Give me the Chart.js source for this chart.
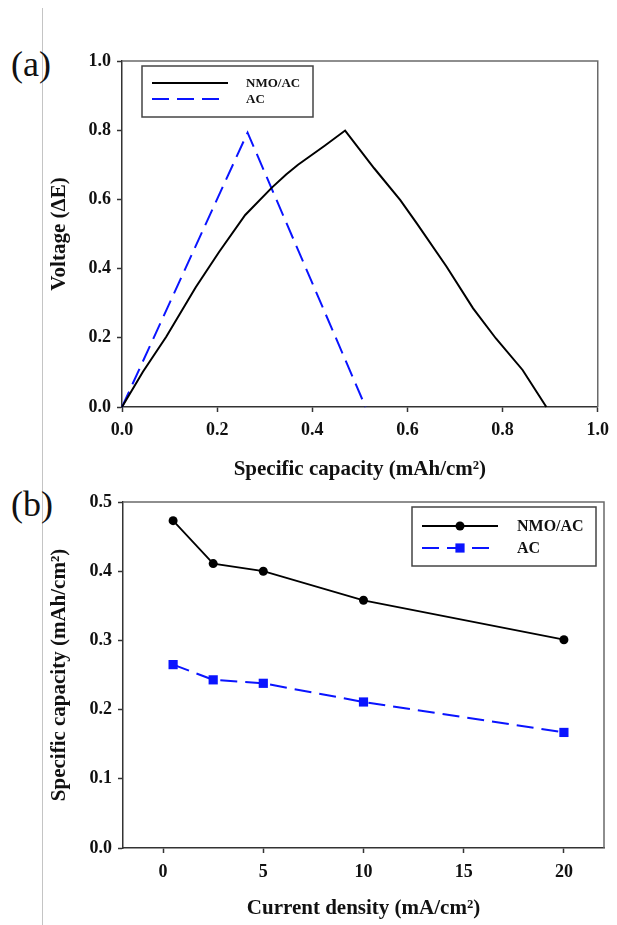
<!DOCTYPE html>
<html>
<head>
<meta charset="utf-8">
<script src="https://cdn.jsdelivr.net/npm/chart.js@4.4.1/dist/chart.umd.min.js"></script>
<style>
  html, body { margin: 0; padding: 0; background: #fff; }
  body { width: 617px; height: 925px; position: relative; overflow: hidden; font-family: "Liberation Serif", "Times New Roman", serif; }
  .panel { position: absolute; left: 0; width: 617px; }
  #wrapA { top: 0; height: 485px; }
  #wrapB { top: 485px; height: 440px; }
  .tag { position: absolute; left: 11px; font-size: 36px; line-height: 36px; color: #111; }
  .rule { position: absolute; left: 42px; top: 8px; width: 1px; height: 917px; background: #c4c4c4; }
</style>
</head>
<body>
<div class="rule"></div>
<div class="tag" style="top:46px">(a)</div>
<div class="tag" style="top:486px">(b)</div>
<div class="panel" id="wrapA"><canvas id="chartA" width="617" height="485"></canvas></div>
<div class="panel" id="wrapB"><canvas id="chartB" width="617" height="440"></canvas></div>
<script>
const FONT = '"Liberation Serif", "Times New Roman", serif';

// (a) charge / discharge curves
const capNMO = [0, 0.044, 0.093, 0.155, 0.204, 0.259, 0.315, 0.345, 0.370, 0.426, 0.469, 0.530, 0.585, 0.620, 0.682, 0.738, 0.786, 0.842, 0.892];
const voltNMO = [0, 0.102, 0.203, 0.346, 0.448, 0.555, 0.634, 0.672, 0.700, 0.755, 0.799, 0.690, 0.598, 0.530, 0.406, 0.285, 0.198, 0.107, 0];
const capAC = [0, 0.264, 0.512];
const voltAC = [0, 0.793, 0];
const ticksA = [0, 0.2, 0.4, 0.6, 0.8, 1.0];

// (b) rate capability
const currentDensity = [0.5, 2.5, 5, 10, 20];
const specNMO = [0.473, 0.411, 0.400, 0.358, 0.301];
const specAC = [0.265, 0.243, 0.238, 0.211, 0.167];
const ticksBx = [0, 5, 10, 15, 20];
const ticksBy = [0, 0.1, 0.2, 0.3, 0.4, 0.5];

const seriesNames = ['NMO/AC', 'AC'];

function pairs(xs, ys) {
    return xs.map((x, i) => ({ x: x, y: ys[i] }));
}

// top and right edges of the plot box
const framePlugin = {
    id: 'frame',
    afterDraw(chart) {
        const ctx = chart.ctx;
        const a = chart.chartArea;
        ctx.save();
        ctx.strokeStyle = '#6a6a6a';
        ctx.lineWidth = 1.5;
        ctx.beginPath();
        ctx.moveTo(a.left, a.top);
        ctx.lineTo(a.right, a.top);
        ctx.lineTo(a.right, a.bottom);
        ctx.stroke();
        ctx.restore();
    }
};

// boxed legend like the original figure
const boxLegend = {
    id: 'boxLegend',
    afterDraw(chart, args, o) {
        const ctx = chart.ctx;
        ctx.save();
        ctx.fillStyle = '#fff';
        ctx.fillRect(o.x, o.y, o.w, o.h);
        ctx.strokeStyle = '#444';
        ctx.lineWidth = 1.5;
        ctx.strokeRect(o.x, o.y, o.w, o.h);
        ctx.font = 'bold ' + o.size + 'px ' + FONT;
        ctx.textBaseline = 'middle';
        chart.data.datasets.forEach((ds, i) => {
            const y = o.rows[i];
            const dash = ds.borderDash || [];
            // end a dashed sample on a full dash
            const x2 = dash.length ? o.x1 + dash[0] * 3 + dash[1] * 2 : o.x2;
            ctx.strokeStyle = ds.borderColor;
            ctx.lineWidth = ds.borderWidth;
            ctx.setLineDash(dash);
            ctx.beginPath();
            ctx.moveTo(o.x1, y);
            ctx.lineTo(x2, y);
            ctx.stroke();
            ctx.setLineDash([]);
            const mx = (o.x1 + o.x2) / 2;
            ctx.fillStyle = ds.backgroundColor;
            if (ds.pointRadius > 0 && ds.pointStyle === 'circle') {
                ctx.beginPath();
                ctx.arc(mx, y, ds.pointRadius, 0, Math.PI * 2);
                ctx.fill();
            } else if (ds.pointRadius > 0) {
                const s = Math.SQRT1_2 * ds.pointRadius;
                ctx.fillRect(mx - s, y - s, 2 * s, 2 * s);
            }
            ctx.fillStyle = '#111';
            ctx.fillText(ds.label, o.tx, y + 1);
        });
        ctx.restore();
    }
};

function axis(cfg) {
    return {
        type: 'linear',
        min: cfg.min,
        max: cfg.max,
        afterBuildTicks: scale => { scale.ticks = cfg.ticks.map(v => ({ value: v })); },
        afterFit: scale => {
            if (cfg.width) scale.width = cfg.width;
            if (cfg.height) scale.height = cfg.height;
        },
        border: { color: '#333', width: 1.5 },
        grid: { drawOnChartArea: false, drawTicks: true, tickLength: 5, tickColor: '#333', tickWidth: 1.5 },
        ticks: {
            padding: cfg.pad,
            color: '#111',
            font: { family: FONT, size: 18, weight: 'bold' },
            callback: cfg.fmt
        },
        title: {
            display: true,
            text: cfg.title,
            color: '#111',
            font: { family: FONT, size: 21, weight: 'bold' },
            padding: cfg.titlePad
        }
    };
}

new Chart(document.getElementById('chartA'), {
    type: 'scatter',
    data: {
        datasets: [
            { label: seriesNames[0], data: pairs(capNMO, voltNMO), showLine: true, borderColor: '#000', backgroundColor: '#000', borderWidth: 2, pointRadius: 0, tension: 0, clip: 4 },
            { label: seriesNames[1], data: pairs(capAC, voltAC), showLine: true, borderColor: '#0a14ff', backgroundColor: '#0a14ff', borderWidth: 2, borderDash: [17, 8], pointRadius: 0, tension: 0, clip: 4 }
        ]
    },
    options: {
        responsive: false,
        animation: false,
        layout: { padding: { left: 0, top: 61, right: 14, bottom: 0 } },
        scales: {
            x: axis({ min: 0, max: 1, ticks: ticksA, height: 78, pad: 8, fmt: v => v.toFixed(1),
                      title: 'Specific capacity (mAh/cm²)', titlePad: { top: 0, bottom: 3 } }),
            y: axis({ min: 0, max: 1, ticks: ticksA, width: 122, pad: 6, fmt: v => v.toFixed(1),
                      title: 'Voltage (ΔE)', titlePad: { top: 47, bottom: 0 } })
        },
        plugins: {
            legend: { display: false },
            tooltip: { enabled: false },
            boxLegend: { x: 142, y: 66, w: 171, h: 51, x1: 152, x2: 228, tx: 246, rows: [83, 99], size: 13 }
        }
    },
    plugins: [framePlugin, boxLegend]
});

new Chart(document.getElementById('chartB'), {
    type: 'scatter',
    data: {
        datasets: [
            { label: seriesNames[0], data: pairs(currentDensity, specNMO), showLine: true, borderColor: '#000', backgroundColor: '#000', borderWidth: 1.8, pointStyle: 'circle', pointRadius: 4.5, pointBorderWidth: 0, tension: 0, clip: 8 },
            { label: seriesNames[1], data: pairs(currentDensity, specAC), showLine: true, borderColor: '#0a14ff', backgroundColor: '#0a14ff', borderWidth: 2, borderDash: [17, 8], pointStyle: 'rect', pointRadius: 6.5, pointBorderWidth: 0, tension: 0, clip: 8 }
        ]
    },
    options: {
        responsive: false,
        animation: false,
        layout: { padding: { left: 0, top: 17, right: 13, bottom: 0 } },
        scales: {
            x: axis({ min: -2, max: 22, ticks: ticksBx, height: 77, pad: 9, fmt: v => String(v),
                      title: 'Current density (mA/cm²)', titlePad: { top: 0, bottom: 4 } }),
            y: axis({ min: 0, max: 0.5, ticks: ticksBy, width: 123, pad: 6, fmt: v => v.toFixed(1),
                      title: 'Specific capacity (mAh/cm²)', titlePad: { top: 47, bottom: 0 } })
        },
        plugins: {
            legend: { display: false },
            tooltip: { enabled: false },
            boxLegend: { x: 412, y: 22, w: 184, h: 59, x1: 422, x2: 498, tx: 517, rows: [41, 63], size: 16 }
        }
    },
    plugins: [framePlugin, boxLegend]
});
</script>
</body>
</html>
